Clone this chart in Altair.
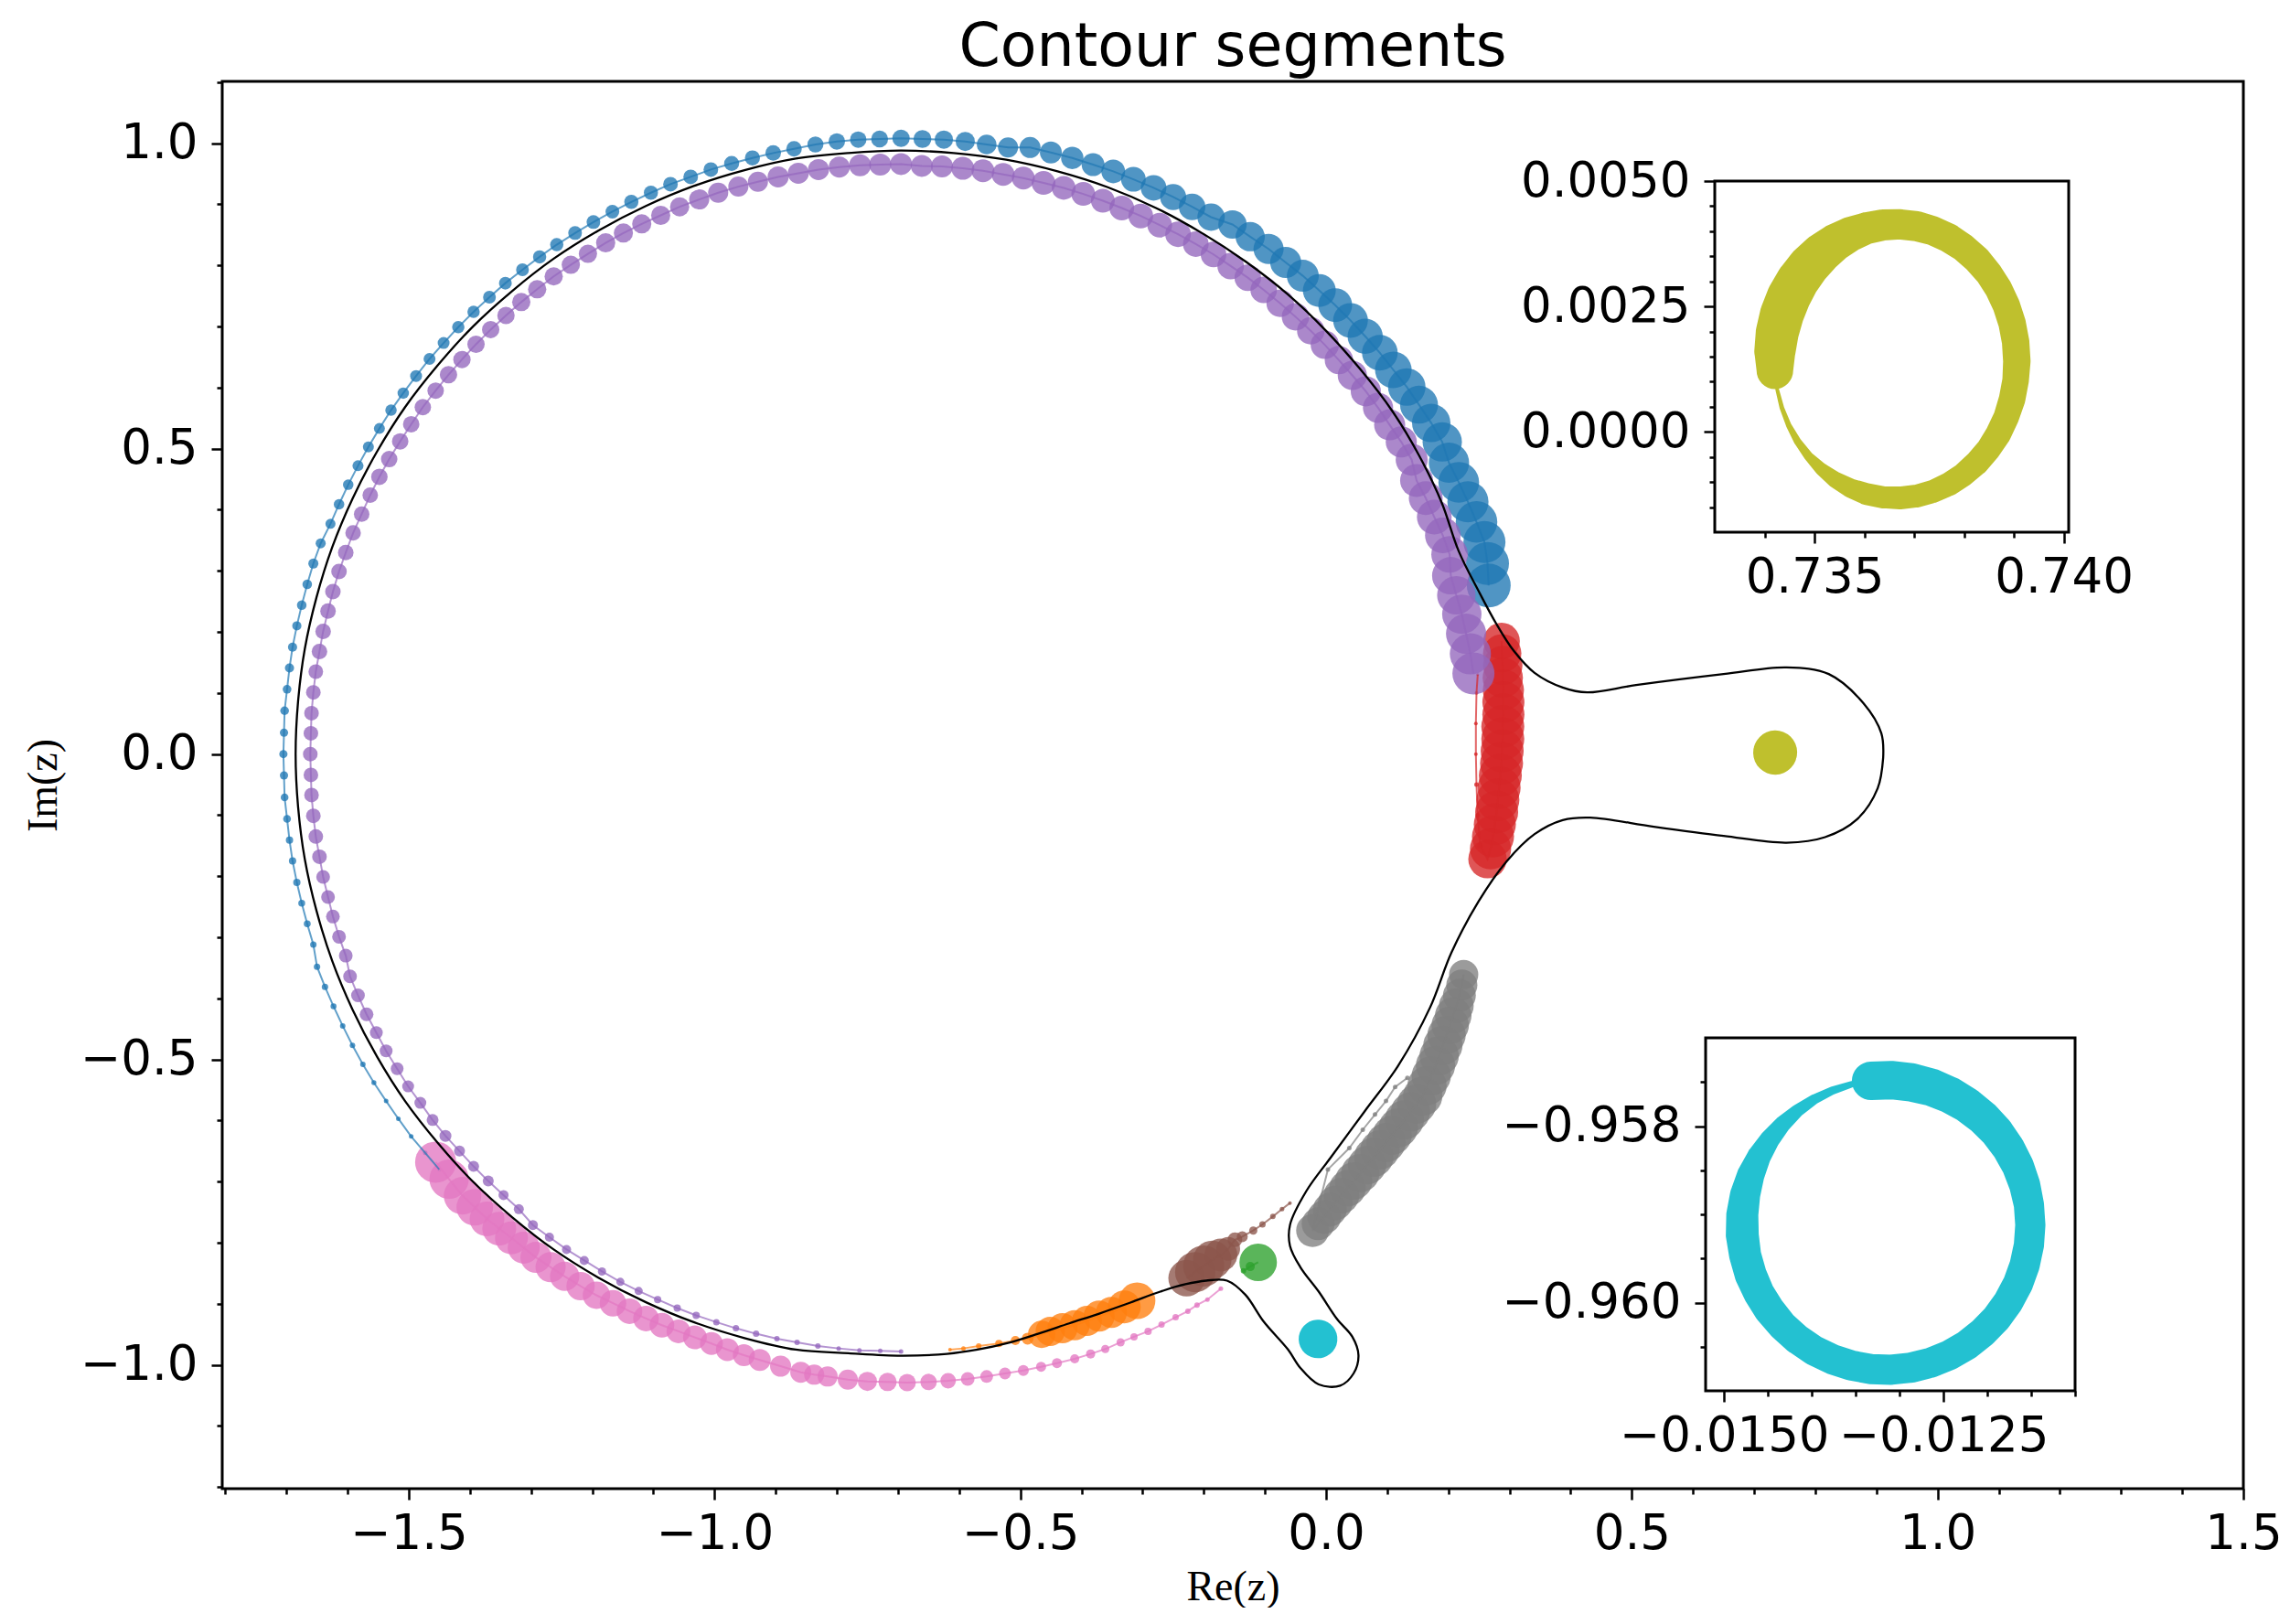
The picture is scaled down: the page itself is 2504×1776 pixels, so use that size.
import altair as alt
import pandas as pd

# ---------------- axes / layout constants ----------------
X_DOMAIN = [-1.805, 1.5]
Y_DOMAIN = [-1.2026, 1.1013]
X_MAJOR = [-1.5, -1.0, -0.5, 0.0, 0.5, 1.0, 1.5]
Y_MAJOR = [-1.0, -0.5, 0.0, 0.5, 1.0]
X_MINOR = [-1.8, -1.7, -1.6, -1.4, -1.3, -1.2, -1.1, -0.9, -0.8, -0.7, -0.6, -0.4, -0.3,
           -0.2, -0.1, 0.1, 0.2, 0.3, 0.4, 0.6, 0.7, 0.8, 0.9, 1.1, 1.2, 1.3, 1.4]
Y_MINOR = [-1.2, -1.1, -0.9, -0.8, -0.7, -0.6, -0.4, -0.3, -0.2, -0.1, 0.1, 0.2, 0.3, 0.4,
           0.6, 0.7, 0.8, 0.9, 1.1]

IN1_X_DOMAIN = [0.7330, 0.7401]
IN1_Y_DOMAIN = [-0.0020, 0.0050]
IN1_X_MAJOR = [0.735, 0.740]
IN1_X_MINOR = [0.734, 0.736, 0.737, 0.738, 0.739]
IN1_Y_MAJOR = [0.0, 0.0025, 0.005]
IN1_Y_MINOR = [-0.0015, -0.001, -0.0005, 0.0005, 0.001, 0.0015, 0.002, 0.003, 0.0035, 0.004, 0.0045]

IN2_X_DOMAIN = [-0.01521, -0.01100]
IN2_Y_DOMAIN = [-0.9610, -0.9570]
IN2_X_MAJOR = [-0.015, -0.0125]
IN2_X_MINOR = [-0.0145, -0.014, -0.0135, -0.013, -0.012, -0.0115, -0.011]
IN2_Y_MAJOR = [-0.960, -0.958]
IN2_Y_MINOR = [-0.9605, -0.9595, -0.959, -0.9585, -0.9575]

W, H = 2210, 1539
IN1_X_RANGE = [1632, 2019]
IN1_Y_RANGE = [493, 109]
IN2_X_RANGE = [1622, 2026]
IN2_Y_RANGE = [1432, 1046]

SEG_NAMES = ["C0", "C1", "C2", "C3", "C4", "C5", "C6", "C7", "C8", "C9"]
SEG_COLORS = ["#1f77b4", "#ff7f0e", "#2ca02c", "#d62728", "#9467bd",
              "#8c564b", "#e377c2", "#7f7f7f", "#bcbd22", "#17becf"]

# ---------------- black contour ----------------
contour_x = [0.911, 0.908, 0.879, 0.822, 0.753, 0.650, 0.507, 0.427, 0.387, 0.341, 0.307, 0.278, 0.252,
             0.217, 0.189, 0.152, 0.108, 0.056, -0.001, -0.063, -0.131, -0.203, -0.278, -0.357, -0.439,
             -0.523, -0.609, -0.695, -0.781, -0.867, -0.951, -1.034, -1.113, -1.190, -1.263, -1.331,
             -1.395, -1.453, -1.506, -1.552, -1.592, -1.625, -1.651, -1.670, -1.681, -1.685, -1.681,
             -1.670, -1.651, -1.625, -1.592, -1.552, -1.506, -1.453, -1.395, -1.331, -1.263, -1.190,
             -1.113, -1.034, -0.951, -0.867, -0.781, -0.695, -0.620, -0.570, -0.520, -0.471, -0.420,
             -0.371, -0.320, -0.271, -0.230, -0.196, -0.162, -0.132, -0.102, -0.062, -0.042, -0.012,
             0.023, 0.045, 0.053, 0.043, 0.018, -0.012, -0.042, -0.059, -0.059, -0.032, 0.008, 0.063,
             0.118, 0.170, 0.205, 0.2495, 0.295, 0.341, 0.387, 0.432, 0.536, 0.650, 0.753, 0.816, 0.868,
             0.902, 0.911]
contour_y = [-0.006, 0.034, 0.083, 0.131, 0.142, 0.131, 0.113, 0.101, 0.109, 0.133, 0.169, 0.214, 0.262,
             0.332, 0.412, 0.489, 0.562, 0.630, 0.694, 0.753, 0.806, 0.853, 0.894, 0.928, 0.954,
             0.973, 0.984, 0.988, 0.984, 0.975, 0.956, 0.930, 0.897, 0.857, 0.811, 0.758,
             0.700, 0.636, 0.568, 0.495, 0.418, 0.339, 0.256, 0.172, 0.086, 0.000, -0.086,
             -0.172, -0.256, -0.339, -0.418, -0.495, -0.568, -0.636, -0.700, -0.758, -0.811, -0.857,
             -0.897, -0.930, -0.956, -0.975, -0.981, -0.985, -0.982, -0.975, -0.964, -0.949, -0.932,
             -0.916, -0.898, -0.880, -0.868, -0.862, -0.862, -0.885, -0.929, -0.975, -1.005, -1.032,
             -1.034, -1.014, -0.984, -0.954, -0.925, -0.880, -0.840, -0.805, -0.771, -0.715, -0.660, -0.585,
             -0.510, -0.415, -0.325, -0.241, -0.176, -0.131, -0.108, -0.104, -0.119, -0.134, -0.145, -0.136, -0.107,
             -0.056, -0.006]

# ---------------- segment C0 (blue) ----------------
blue_x = [-1.450, -1.473,
          -1.496, -1.517, -1.537, -1.557, -1.575, -1.592, -1.608, -1.623, -1.637, -1.650, -1.656, -1.666,
          -1.675, -1.683, -1.690, -1.695, -1.699, -1.703, -1.704, -1.705, -1.704, -1.703, -1.699, -1.695,
          -1.690, -1.683, -1.675, -1.666, -1.656, -1.644, -1.628, -1.614, -1.599, -1.583, -1.566, -1.548,
          -1.529, -1.509, -1.488, -1.466, -1.443, -1.419, -1.394, -1.368, -1.342, -1.314, -1.286, -1.258,
          -1.228, -1.198, -1.167, -1.136, -1.104, -1.072, -1.039, -1.006, -0.972, -0.938, -0.904, -0.870,
          -0.835, -0.800, -0.765, -0.730, -0.695, -0.660, -0.625, -0.590, -0.555, -0.520, -0.484, -0.450,
          -0.415, -0.381, -0.348, -0.315, -0.282, -0.250, -0.219, -0.188, -0.153, -0.124, -0.094, -0.066,
          -0.038, -0.011, 0.015, 0.040, 0.064, 0.088, 0.110, 0.132, 0.152, 0.172, 0.190, 0.201, 0.217,
          0.232, 0.246, 0.259, 0.264, 0.266]
blue_y = [-0.680, -0.653,
          -0.626, -0.597, -0.568, -0.538, -0.508, -0.477, -0.445, -0.413, -0.381, -0.348, -0.312, -0.278,
          -0.244, -0.210, -0.175, -0.141, -0.106, -0.071, -0.035, 0.000, 0.035, 0.071, 0.106, 0.141,
          0.175, 0.210, 0.244, 0.278, 0.312, 0.345, 0.377, 0.409, 0.441, 0.472, 0.503, 0.533,
          0.563, 0.591, 0.619, 0.647, 0.673, 0.699, 0.724, 0.748, 0.771, 0.793, 0.814, 0.834,
          0.853, 0.871, 0.888, 0.904, 0.919, 0.933, 0.945, 0.957, 0.967, 0.976, 0.984, 0.991,
          0.998, 1.003, 1.006, 1.007, 1.008, 1.007, 1.006, 1.003, 0.998, 0.993, 0.993, 0.985,
          0.976, 0.965, 0.954, 0.941, 0.927, 0.912, 0.896, 0.879, 0.867, 0.847, 0.827, 0.805,
          0.783, 0.759, 0.735, 0.710, 0.684, 0.657, 0.629, 0.601, 0.572, 0.542, 0.511, 0.477, 0.445,
          0.413, 0.380, 0.347, 0.312, 0.276]
blue_d = [4.5, 5,
          5, 5, 5, 5.5, 6, 6, 6, 6.5, 7, 7, 7, 7.5, 7.5, 8, 8, 8, 8.5, 8.5, 9, 9, 9, 9.5, 9.5, 10,
          10, 10, 10.5, 10.5, 11, 11, 11, 11.5, 11.5, 12, 12, 12, 12.5, 12.5, 13, 13, 13, 13.5, 13.5, 14,
          14, 14, 14.5, 14.5, 15, 15, 15, 15.5, 15.5, 16, 16, 16, 16.5, 16.5, 17, 17, 17.5, 18, 18, 18.5,
          19, 19.5, 20, 21, 21.5, 22, 23, 24, 24.5, 25, 26, 27, 28, 28.5, 29, 30, 31, 32, 33, 34,
          35, 36, 37, 38, 38.5, 39, 40, 41, 41.5, 42, 43, 44, 44.5, 45, 45.5, 46, 47, 48]

# ---------------- segment C1 (orange) ----------------
orange_x = [-0.615, -0.593, -0.568, -0.535, -0.508, -0.488, -0.465, -0.451, -0.431, -0.411, -0.391,
            -0.371, -0.351, -0.330, -0.309]
orange_y = [-0.975, -0.973, -0.969, -0.965, -0.960, -0.957, -0.950, -0.945, -0.940, -0.935, -0.928,
            -0.920, -0.914, -0.905, -0.895]
orange_d = [4, 5, 6, 8, 10, 13, 30, 32, 33, 33, 33, 34, 34, 36, 40]

# ---------------- segment C2 (green) ----------------
green_x = [-0.135, -0.124, -0.111]
green_y = [-0.846, -0.839, -0.832]
green_d = [6, 10, 41]

# ---------------- segment C3 (red) ----------------
red_x = [0.287, 0.288, 0.289, 0.289, 0.290, 0.290, 0.290, 0.289, 0.289, 0.288, 0.287, 0.285, 0.283, 0.281,
         0.279, 0.276, 0.273, 0.269, 0.264,
         0.252, 0.248, 0.246, 0.245, 0.245, 0.246, 0.248]
red_y = [0.185, 0.165, 0.145, 0.125, 0.105, 0.085, 0.065, 0.045, 0.025, 0.005, -0.015, -0.035, -0.055,
         -0.075, -0.095, -0.115, -0.135, -0.155, -0.172,
         -0.150, -0.100, -0.050, 0.000, 0.050, 0.100, 0.130]
red_d = [40, 42, 43, 44, 45, 46, 46, 47, 47, 47, 47, 47, 47, 47, 47, 46, 46, 45, 42,
         6, 5, 5, 4, 4, 4, 3]

# ---------------- segment C4 (purple) ----------------
purple_x = [0.241, 0.236, 0.229, 0.222, 0.213, 0.204, 0.202, 0.191, 0.177, 0.163, 0.148, 0.140, 0.123,
            0.104, 0.085, 0.065, 0.043, 0.021, -0.002, -0.025, -0.050, -0.075, -0.102, -0.128, -0.156,
            -0.184, -0.213, -0.242, -0.272, -0.303, -0.334, -0.365, -0.397, -0.429, -0.462, -0.495,
            -0.528, -0.561, -0.594, -0.628, -0.661, -0.695, -0.729, -0.762, -0.796, -0.830, -0.863,
            -0.896, -0.929, -0.961, -0.994, -1.025, -1.057, -1.088, -1.119, -1.149, -1.178, -1.207,
            -1.235, -1.263, -1.290, -1.316, -1.341, -1.366, -1.390, -1.413, -1.435, -1.456, -1.477,
            -1.496, -1.514, -1.532, -1.548, -1.563, -1.577, -1.591, -1.603, -1.614, -1.624, -1.632,
            -1.640, -1.646, -1.652, -1.656, -1.659, -1.660, -1.661, -1.660, -1.659, -1.656, -1.652,
            -1.646, -1.640, -1.632, -1.624, -1.614, -1.603, -1.596, -1.583, -1.569, -1.553, -1.537,
            -1.519, -1.501, -1.481, -1.461, -1.440, -1.417, -1.394, -1.370, -1.345, -1.320, -1.297,
            -1.270, -1.242, -1.213, -1.184, -1.154, -1.124, -1.093, -1.061, -1.030, -0.997, -0.965,
            -0.932, -0.898, -0.865, -0.831, -0.797, -0.763, -0.729, -0.695]
purple_y = [0.132, 0.164, 0.197, 0.229, 0.260, 0.292, 0.327, 0.358, 0.388, 0.419, 0.448, 0.482, 0.511,
            0.539, 0.567, 0.594, 0.620, 0.645, 0.670, 0.693, 0.716, 0.738, 0.760, 0.780, 0.799,
            0.818, 0.835, 0.851, 0.866, 0.881, 0.894, 0.906, 0.917, 0.927, 0.935, 0.943,
            0.949, 0.955, 0.959, 0.962, 0.963, 0.966, 0.965, 0.964, 0.961, 0.957, 0.951,
            0.945, 0.937, 0.929, 0.919, 0.908, 0.896, 0.882, 0.868, 0.853, 0.837, 0.819,
            0.801, 0.782, 0.761, 0.740, 0.718, 0.695, 0.671, 0.646, 0.621, 0.595, 0.568,
            0.540, 0.512, 0.483, 0.454, 0.424, 0.393, 0.362, 0.330, 0.299, 0.266, 0.234,
            0.201, 0.168, 0.135, 0.101, 0.067, 0.034, 0.000, -0.034, -0.067, -0.101, -0.135,
            -0.168, -0.201, -0.234, -0.266, -0.299, -0.330, -0.364, -0.395, -0.426, -0.456, -0.486,
            -0.515, -0.544, -0.571, -0.599, -0.625, -0.650, -0.675, -0.699, -0.722, -0.745, -0.771,
            -0.791, -0.811, -0.829, -0.847, -0.864, -0.879, -0.893, -0.907, -0.919, -0.930, -0.940,
            -0.949, -0.957, -0.963, -0.969, -0.973, -0.976, -0.977, -0.978]
purple_d = [46, 45, 44, 43, 42, 41, 40, 39, 38, 37, 36, 35, 34, 34, 33, 33, 32, 31, 31, 30, 30, 30, 29, 29,
            29, 28, 28, 28, 27, 27, 27, 26, 26, 26, 26, 25, 25, 25, 25, 24, 24, 24, 24, 24, 23, 23, 23,
            23, 22, 22, 22, 22, 21, 21, 21, 21, 21, 20, 20, 20, 20, 20, 19, 19, 19, 19, 19, 18, 18,
            18, 18, 18, 18, 17, 17, 17, 17, 17, 17, 17, 17, 17, 16, 16, 16, 16, 16, 16, 16, 16, 16,
            16, 15, 15, 15, 15, 15, 15, 15, 15, 14, 14, 14, 13, 13, 13, 13, 12, 12, 12, 11, 11, 11,
            10, 10, 10, 9, 9, 9, 8, 8, 8, 7, 7, 7, 6, 6, 6, 5, 5, 5, 5]

# ---------------- segment C5 (brown) ----------------
brown_x = [-0.228, -0.214, -0.200, -0.186, -0.172, -0.160, -0.149, -0.137, -0.119, -0.104, -0.087, -0.072, -0.059]
brown_y = [-0.858, -0.848, -0.838, -0.828, -0.820, -0.810, -0.795, -0.790, -0.780, -0.770, -0.757, -0.745, -0.735]
brown_d = [40, 44, 45, 42, 36, 26, 16, 12, 9, 7, 6, 5, 4]

# ---------------- segment C6 (pink) ----------------
pink_x = [-1.456, -1.434, -1.412, -1.392, -1.372, -1.352, -1.332, -1.312, -1.292, -1.268, -1.245, -1.219,
          -1.193, -1.166, -1.139, -1.112, -1.086, -1.059, -1.032, -1.005, -0.979, -0.952, -0.926, -0.892,
          -0.859, -0.837, -0.815, -0.782, -0.750, -0.717, -0.685, -0.650, -0.618, -0.586, -0.555, -0.525,
          -0.495, -0.466, -0.440, -0.411, -0.385, -0.361, -0.336, -0.314, -0.291, -0.269, -0.246, -0.226,
          -0.211, -0.194, -0.172]
pink_y = [-0.668, -0.696, -0.723, -0.742, -0.761, -0.777, -0.792, -0.808, -0.824, -0.840, -0.855, -0.871,
          -0.886, -0.899, -0.912, -0.924, -0.935, -0.945, -0.955, -0.965, -0.975, -0.984, -0.992, -1.002,
          -1.012, -1.016, -1.019, -1.024, -1.027, -1.028, -1.029, -1.028, -1.026, -1.023, -1.019, -1.014,
          -1.009, -1.003, -0.997, -0.990, -0.982, -0.974, -0.963, -0.954, -0.945, -0.934, -0.922, -0.912,
          -0.902, -0.893, -0.875]
pink_d = [45, 43, 41, 40, 38, 37, 36, 35, 34, 33, 32, 31, 30, 29, 28, 28, 27, 26, 26, 25, 25, 24, 24, 23,
          23, 22, 22, 22, 21, 20, 19, 18, 17, 15, 14, 13, 12, 11, 11, 10, 10, 9, 9, 8, 8, 7, 7, 6, 6, 5, 5]

# ---------------- segment C7 (gray) ----------------
gray_x = [0.225, 0.222, 0.218, 0.213, 0.208, 0.203, 0.197, 0.191, 0.185, 0.179, 0.172, 0.165, 0.158,
          0.148, 0.138, 0.128, 0.118, 0.108, 0.098, 0.088, 0.078, 0.067, 0.056, 0.045, 0.035, 0.025,
          0.015, 0.006, -0.003, -0.013, -0.022,
          0.003, 0.038, 0.060, 0.080, 0.098, 0.113, 0.133]
gray_y = [-0.361, -0.378, -0.395, -0.412, -0.428, -0.444, -0.460, -0.477, -0.494, -0.510, -0.527, -0.543,
          -0.560, -0.573, -0.586, -0.599, -0.612, -0.624, -0.636, -0.648, -0.660, -0.673, -0.686, -0.699,
          -0.711, -0.723, -0.735, -0.746, -0.758, -0.769, -0.780,
          -0.680, -0.645, -0.615, -0.590, -0.568, -0.545, -0.530]
gray_d = [32, 34, 36, 38, 40, 41, 42, 43, 43, 43, 43, 43, 43, 43, 43, 43, 43, 43, 43, 43, 43, 42, 42, 41,
          40, 39, 38, 37, 37, 36, 36,
          5, 5, 5, 5, 5, 5, 5]

# ---------------- segment C8 (olive ring, inset 1) ----------------
olive_x = [0.734206, 0.734206, 0.734253, 0.734347, 0.734485, 0.734664, 0.734882, 0.735134, 0.735415,
           0.735720, 0.736042, 0.736376, 0.736715, 0.737052, 0.737381, 0.737695, 0.737989, 0.738256,
           0.738491, 0.738691, 0.738850, 0.738966, 0.739036, 0.739060, 0.739036, 0.738966, 0.738850,
           0.738691, 0.738491, 0.738256, 0.737989, 0.737695, 0.737381, 0.737052, 0.736715, 0.736376,
           0.736042, 0.735720, 0.735415, 0.735134, 0.734882, 0.734664, 0.734485, 0.734347, 0.734253]
olive_y = [0.001219, 0.001601, 0.001978, 0.002344, 0.002692, 0.003015, 0.003307, 0.003561, 0.003774,
           0.003941, 0.004059, 0.004125, 0.004138, 0.004099, 0.004007, 0.003864, 0.003673, 0.003439,
           0.003165, 0.002857, 0.002520, 0.002162, 0.001790, 0.001410, 0.001030, 0.000658, 0.000300,
           -0.000037, -0.000345, -0.000619, -0.000853, -0.001044, -0.001187, -0.001279, -0.001318,
           -0.001305, -0.001239, -0.001121, -0.000954, -0.000741, -0.000487, -0.000195, 0.000128,
           0.000476, 0.000842]
olive_w = [40, 45, 47, 48, 48, 47, 46, 44, 41, 38, 35, 34, 33, 33, 32, 32, 31, 31, 30, 30, 30, 30, 30,
           30, 29, 29, 28, 28, 27, 27, 26, 26, 25, 25, 25, 24, 24, 21, 18, 14, 10, 8, 6, 5, 4]

# ---------------- segment C9 (cyan ring, inset 2) ----------------
cyan_x = [-0.013325, -0.013096, -0.012868, -0.012645, -0.012433, -0.012234, -0.012054, -0.011894,
          -0.011760, -0.011652, -0.011574, -0.011526, -0.011510, -0.011526, -0.011574, -0.011652,
          -0.011760, -0.011894, -0.012054, -0.012234, -0.012433, -0.012645, -0.012868, -0.013096,
          -0.013325, -0.013550, -0.013768, -0.013975, -0.014165, -0.014335, -0.014482, -0.014604,
          -0.014697, -0.014760, -0.014792, -0.014792, -0.014760, -0.014697, -0.014604, -0.014482,
          -0.014335, -0.014165, -0.013975, -0.013768, -0.013550]
cyan_y = [-0.957487, -0.957479, -0.957503, -0.957558, -0.957644, -0.957759, -0.957900, -0.958064,
          -0.958250, -0.958452, -0.958667, -0.958891, -0.959120, -0.959349, -0.959573, -0.959788,
          -0.959990, -0.960176, -0.960340, -0.960481, -0.960596, -0.960682, -0.960737, -0.960761,
          -0.960753, -0.960713, -0.960642, -0.960542, -0.960414, -0.960261, -0.960085, -0.959891,
          -0.959682, -0.959461, -0.959235, -0.959005, -0.958779, -0.958558, -0.958349, -0.958155,
          -0.957979, -0.957826, -0.957698, -0.957598, -0.957527]
cyan_w = [42, 42, 42, 41, 40, 39, 38, 37, 36, 35, 34, 33, 33, 33, 33, 33, 33, 33, 33, 33, 33, 33, 33,
          33, 33, 33, 33, 33, 33, 33, 34, 34, 35, 35, 36, 35, 33, 30, 26, 22, 18, 14, 11, 9, 7]

# ---------------- tables ----------------
def seg_table(name, xs, ys, ds):
    # symbol size in Vega is d*d for a circle of diameter d
    return pd.DataFrame({"seg": name, "i": list(range(len(xs))), "x": xs, "y": ys,
                         "s": [d * d for d in ds]})

pts = pd.concat([
    seg_table("C0", blue_x, blue_y, blue_d),
    seg_table("C1", orange_x, orange_y, orange_d),
    seg_table("C2", green_x, green_y, green_d),
    seg_table("C3", red_x, red_y, red_d),
    seg_table("C4", purple_x, purple_y, purple_d),
    seg_table("C5", brown_x, brown_y, brown_d),
    seg_table("C6", pink_x, pink_y, pink_d),
    seg_table("C7", gray_x, gray_y, gray_d),
], ignore_index=True)

olive_df = pd.DataFrame({"seg": "C8", "i": range(len(olive_x)), "x": olive_x, "y": olive_y, "w": olive_w})
cyan_df = pd.DataFrame({"seg": "C9", "i": range(len(cyan_x)), "x": cyan_x, "y": cyan_y, "w": cyan_w})
rings = pd.concat([olive_df, cyan_df], ignore_index=True)
contour_df = pd.DataFrame({"i": range(len(contour_x)), "x": contour_x, "y": contour_y})

# ---------------- styling helpers ----------------
LABEL_FONT = "DejaVu Sans"
LABEL_SIZE = 53
TICK_W = 2.5

def major_axis(values, fmt, orient, title=None, offset=0, pad=12, title_pad=10):
    kw = dict(values=values, format=fmt, orient=orient, domain=False, grid=False,
              tickSize=12, tickWidth=TICK_W, tickColor="black",
              labelFont=LABEL_FONT, labelFontSize=LABEL_SIZE, labelColor="black",
              labelPadding=pad, labelOverlap=False, labelFlush=False, labelLimit=1000,
              offset=offset)
    if title is None:
        kw["title"] = None
    else:
        kw.update(title=title, titleFont="Liberation Serif", titleFontSize=46,
                  titleFontWeight="normal", titleColor="black", titlePadding=title_pad)
    return alt.Axis(**kw)

def minor_axis(values, orient, offset=0):
    return alt.Axis(values=values, orient=orient, labels=False, domain=False, grid=False,
                    tickSize=6, tickWidth=TICK_W, tickColor="black", title=None, offset=offset)

color_scale = alt.Scale(domain=SEG_NAMES, range=SEG_COLORS)

# ---------------- main panel ----------------
mxs = alt.Scale(domain=X_DOMAIN, zero=False, nice=False)
mys = alt.Scale(domain=Y_DOMAIN, zero=False, nice=False)
mxa = major_axis(X_MAJOR, ".1f", "bottom", title="Re(z)", pad=11, title_pad=9)
mya = major_axis(Y_MAJOR, ".1f", "left", title="Im(z)", pad=15, title_pad=16)

def MX(f="x"):
    return alt.X(f"{f}:Q", scale=mxs, axis=mxa)

def MY(f="y"):
    return alt.Y(f"{f}:Q", scale=mys, axis=mya)

seg_points = alt.Chart(pts).mark_circle(opacity=0.78).encode(
    x=MX(), y=MY(),
    color=alt.Color("seg:N", scale=color_scale, legend=None),
    size=alt.Size("s:Q", scale=None),
)
seg_lines = alt.Chart(pts).mark_line(strokeWidth=2, opacity=0.7).encode(
    x=MX(), y=MY(),
    color=alt.Color("seg:N", scale=color_scale, legend=None),
    detail="seg:N", order="i:Q",
)
ring_main = alt.Chart(rings).mark_trail(opacity=0.95).encode(
    x=MX(), y=MY(),
    color=alt.Color("seg:N", scale=color_scale, legend=None),
    size=alt.Size("w:Q", scale=None),
    detail="seg:N", order="i:Q",
)
contour = alt.Chart(contour_df).mark_line(color="black", strokeWidth=2.3, interpolate="catmull-rom").encode(
    x=MX(), y=MY(), order="i:Q"
)
main = alt.layer(seg_points, seg_lines, ring_main, contour)

main_minor = alt.Chart(pd.DataFrame({"a": X_DOMAIN, "b": Y_DOMAIN})).mark_point(opacity=0).encode(
    x=alt.X("a:Q", scale=alt.Scale(domain=X_DOMAIN, zero=False, nice=False),
            axis=minor_axis(X_MINOR, "bottom")),
    y=alt.Y("b:Q", scale=alt.Scale(domain=Y_DOMAIN, zero=False, nice=False),
            axis=minor_axis(Y_MINOR, "left")),
)

# ---------------- inset builder ----------------
def inset(df, color, xdom, ydom, xr, yr, xmaj, xmin, ymaj, ymin, xfmt, yfmt):
    xs = alt.Scale(domain=xdom, range=xr, zero=False, nice=False)
    ys = alt.Scale(domain=ydom, range=yr, zero=False, nice=False)
    xoff = yr[0] - H
    yoff = -xr[0]
    xa = major_axis(xmaj, xfmt, "bottom", offset=xoff, pad=11)
    ya = major_axis(ymaj, yfmt, "left", offset=yoff, pad=15)
    frame = alt.Chart(pd.DataFrame({"x0": [xdom[0]], "x1": [xdom[1]], "y0": [ydom[0]], "y1": [ydom[1]]})
                      ).mark_rect(fill="white", stroke="black", strokeWidth=3).encode(
        x=alt.X("x0:Q", scale=xs, axis=xa), x2="x1:Q",
        y=alt.Y("y0:Q", scale=ys, axis=ya), y2="y1:Q",
    )
    ring = alt.Chart(df).mark_trail(color=color, opacity=0.95).encode(
        x=alt.X("x:Q", scale=xs, axis=xa), y=alt.Y("y:Q", scale=ys, axis=ya),
        size=alt.Size("w:Q", scale=None), order="i:Q",
    )
    minor = alt.Chart(pd.DataFrame({"a": xdom, "b": ydom})).mark_point(opacity=0).encode(
        x=alt.X("a:Q", scale=alt.Scale(domain=xdom, range=xr, zero=False, nice=False),
                axis=minor_axis(xmin, "bottom", offset=xoff)),
        y=alt.Y("b:Q", scale=alt.Scale(domain=ydom, range=yr, zero=False, nice=False),
                axis=minor_axis(ymin, "left", offset=yoff)),
    )
    return alt.layer(frame, ring), minor

in1, in1_minor = inset(olive_df, SEG_COLORS[8], IN1_X_DOMAIN, IN1_Y_DOMAIN, IN1_X_RANGE, IN1_Y_RANGE,
                       IN1_X_MAJOR, IN1_X_MINOR, IN1_Y_MAJOR, IN1_Y_MINOR, ".3f", ".4f")
in2, in2_minor = inset(cyan_df, SEG_COLORS[9], IN2_X_DOMAIN, IN2_Y_DOMAIN, IN2_X_RANGE, IN2_Y_RANGE,
                       IN2_X_MAJOR, IN2_X_MINOR, IN2_Y_MAJOR, IN2_Y_MINOR, ".4f", ".3f")

chart = alt.layer(main, main_minor, in1, in1_minor, in2, in2_minor).resolve_scale(
    x="independent", y="independent"
).properties(
    width=W, height=H,
    title=alt.TitleParams("Contour segments", font=LABEL_FONT, fontSize=65, fontWeight="normal",
                          color="black", anchor="middle", offset=0),
    padding={"left": 16, "top": 12, "right": 0, "bottom": 0},
    background="white",
).configure_view(stroke="black", strokeWidth=3)

chart.save("out.html", embed_options={"renderer": "svg", "actions": False})
